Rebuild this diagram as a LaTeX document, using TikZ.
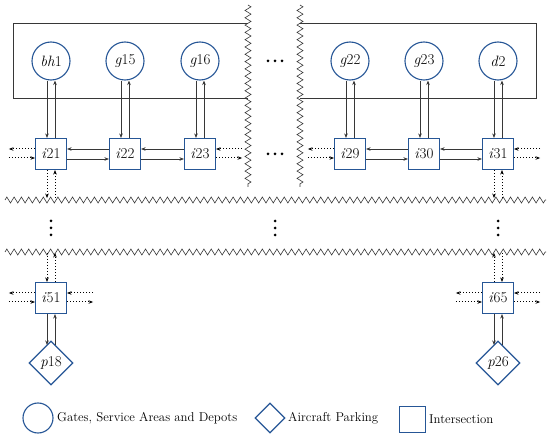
\documentclass[tikz,border=0pt]{standalone}
\usetikzlibrary{arrows.meta,shapes.geometric,decorations.pathmorphing}
\definecolor{nodeblue}{RGB}{38,86,150}
\definecolor{linegray}{RGB}{55,55,55}
\begin{document}
\begin{tikzpicture}[x=1pt,y=-1pt,
  lbl/.style={font=\fontsize{15}{17}\selectfont},
  gate/.style={circle,draw=nodeblue,line width=1.1pt,minimum size=38pt,inner sep=0pt,lbl},
  park/.style={diamond,draw=nodeblue,line width=1.1pt,minimum size=44pt,inner sep=0pt,lbl},
  inter/.style={rectangle,draw=nodeblue,line width=1.1pt,minimum size=31pt,inner sep=0pt,fill=white,lbl},
  link/.style={draw=linegray,line width=0.75pt,-{Stealth[length=4.5pt,width=3.5pt]}},
  ext/.style={draw=black,line width=1pt,dotted,-{Stealth[length=4.5pt,width=3.5pt]}},
  zig/.style={draw=linegray,line width=0.6pt,decorate,decoration={zigzag,segment length=7.3pt,amplitude=3pt}},
  frame/.style={draw=linegray,line width=0.7pt},
  legend/.style={font=\fontsize{12.8}{15}\selectfont,anchor=west,inner sep=0pt}]
\useasboundingbox (0,0) rectangle (550,441);
% frames
\draw[frame] (248,23) -- (13,23) -- (13,98) -- (248,98);
\draw[frame] (300,23) -- (536,23) -- (536,98) -- (300,98);
% zigzags
\coordinate (zl1) at (248,5); \coordinate (zl2) at (248,187);
\coordinate (zr1) at (300,5); \coordinate (zr2) at (300,187);
\coordinate (zh1a) at (5,200); \coordinate (zh1b) at (546,200);
\coordinate (zh2a) at (5,252); \coordinate (zh2b) at (546,252);
\draw[zig] (zl1) -- (zl2);
\draw[zig] (zr1) -- (zr2);
\draw[zig] (zh1a) -- (zh1b);
\draw[zig] (zh2a) -- (zh2b);
% gates
\node[gate] (bh1) at (51,61) {\textit{bh}1};
\node[gate] (g15) at (125,61) {\textit{g}15};
\node[gate] (g16) at (200,61) {\textit{g}16};
\node[gate] (g22) at (350,61) {\textit{g}22};
\node[gate] (g23) at (424,61) {\textit{g}23};
\node[gate] (d2) at (498,61) {\textit{d}2};
% intersections
\node[inter] (i21) at (51,154) {\textit{i}21};
\node[inter] (i22) at (125,154) {\textit{i}22};
\node[inter] (i23) at (200,154) {\textit{i}23};
\node[inter] (i29) at (350,154) {\textit{i}29};
\node[inter] (i30) at (424,154) {\textit{i}30};
\node[inter] (i31) at (498,154) {\textit{i}31};
\node[inter] (i51) at (51,298) {\textit{i}51};
\node[inter] (i65) at (498,298) {\textit{i}65};
% parking
\node[park] (p18) at (51,363) {\textit{p}18};
\node[park] (p26) at (498,363) {\textit{p}26};
% ellipsis dots
\foreach \y in {61,154}{
  \foreach \dx in {-7,0,7} \fill (275+\dx,\y) circle (1.5);
}
\foreach \x in {51,275,498}{
  \foreach \dy in {-7,0,7} \fill (\x,228+\dy) circle (1.5);
}
% gate <-> intersection links
\foreach \g/\s in {bh1/i21,g15/i22,g16/i23,g22/i29,g23/i30,d2/i31}{
  \draw[link] ([xshift=-4pt]\g.south) -- ([xshift=-4pt]\s.north);
  \draw[link] ([xshift=4pt]\s.north) -- ([xshift=4pt]\g.south);
}
% intersection <-> intersection links
\foreach \a/\b in {i21/i22,i22/i23,i29/i30,i30/i31}{
  \draw[link] ([yshift=5pt]\b.west) -- ([yshift=5pt]\a.east);
  \draw[link] ([yshift=-5pt]\a.east) -- ([yshift=-5pt]\b.west);
}
% intersection <-> parking
\foreach \s/\p in {i51/p18,i65/p26}{
  \draw[link] ([xshift=-4pt]\s.south) -- ([xshift=-4pt]\p.north |- 0,345);
  \draw[link] ([xshift=4pt]\p.north |- 0,345) -- ([xshift=4pt]\s.south);
}
% external dotted links, left sides
\foreach \s in {i21,i29,i51,i65}{
  \draw[ext] ([yshift=5pt]\s.west) -- ++(-26,0);
  \draw[ext] ([yshift=-4pt]\s.west) ++(-26,0) -- ([yshift=-4pt]\s.west);
}
% external dotted links, right sides
\foreach \s in {i23,i31,i51,i65}{
  \draw[ext] ([yshift=5pt]\s.east) ++(26,0) -- ([yshift=5pt]\s.east);
  \draw[ext] ([yshift=-4pt]\s.east) -- ++(26,0);
}
% vertical dotted links to lower rows
\foreach \s in {i21,i31}{
  \draw[ext] ([xshift=-4pt]\s.south) -- ++(0,28);
  \draw[ext] ([xshift=4pt]\s.south) ++(0,28) -- ([xshift=4pt]\s.south);
}
\draw[ext] ([xshift=-4pt]i51.north) ++(0,-29) -- ([xshift=-4pt]i51.north);
\draw[ext] ([xshift=4pt]i51.north) -- ++(0,-29);
\draw[ext] ([xshift=-4pt]i65.north) -- ++(0,-29);
\draw[ext] ([xshift=4pt]i65.north) ++(0,-29) -- ([xshift=4pt]i65.north);
% legend
\node[gate,minimum size=30pt] (lg) at (38,418) {};
\node[legend] (lgt) at (57,418) {Gates, Service Areas and Depots};
\node[park,minimum size=30pt] (lp) at (270,418) {};
\node[legend] (lpt) at (288,418) {Aircraft Parking};
\node[inter,minimum size=26pt,line width=0.9pt] (li) at (412,419) {};
\node[legend] (lit) at (429,419) {Intersection};
\end{tikzpicture}
\end{document}
